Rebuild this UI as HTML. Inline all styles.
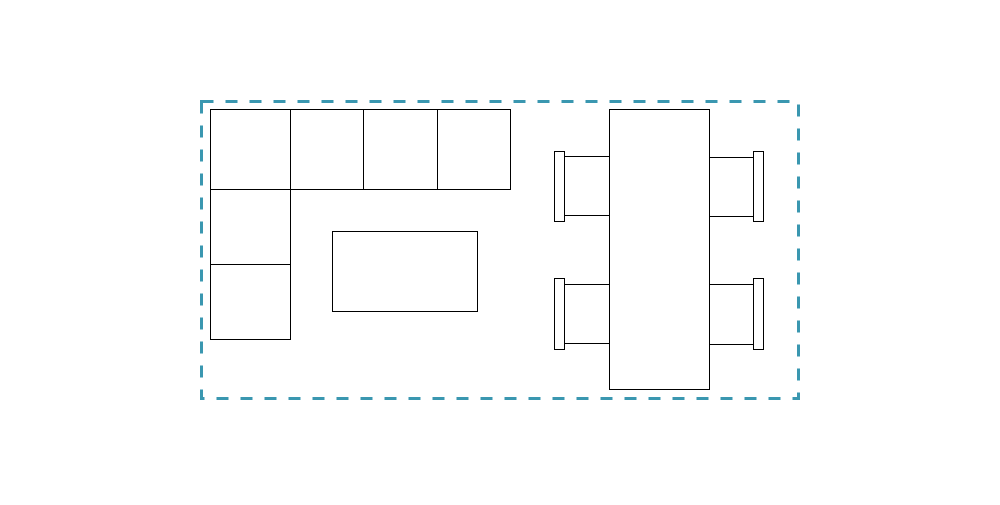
<!DOCTYPE html>
<html><head><style>body{margin:0;background:#fff}</style></head><body>
<svg width="1000" height="500" viewBox="0 0 1000 500" xmlns="http://www.w3.org/2000/svg">
<rect x="201.5" y="101.5" width="597" height="297" fill="none" stroke="#3a97b0" stroke-width="3" stroke-dasharray="12 12"/>
<g fill="#fff" stroke="#000" stroke-width="1">
<rect x="210.5" y="109.5" width="80" height="80"/>
<rect x="290.5" y="109.5" width="73" height="80"/>
<rect x="363.5" y="109.5" width="74" height="80"/>
<rect x="437.5" y="109.5" width="73" height="80"/>
<rect x="210.5" y="189.5" width="80" height="75"/>
<rect x="210.5" y="264.5" width="80" height="75"/>
<rect x="332.5" y="231.5" width="145" height="80"/>
<rect x="609.5" y="109.5" width="100" height="280"/>
<path d="M564 156.5H609M564 215.5H609M564 284.5H609M564 343.5H609M709 157.5H753M709 216.5H753M709 284.5H753M709 344.5H753" fill="none"/>
<rect x="554.5" y="151.5" width="10" height="70"/>
<rect x="554.5" y="278.5" width="10" height="71"/>
<rect x="753.5" y="151.5" width="10" height="70"/>
<rect x="753.5" y="278.5" width="10" height="71"/>
</g>
</svg>
</body></html>
